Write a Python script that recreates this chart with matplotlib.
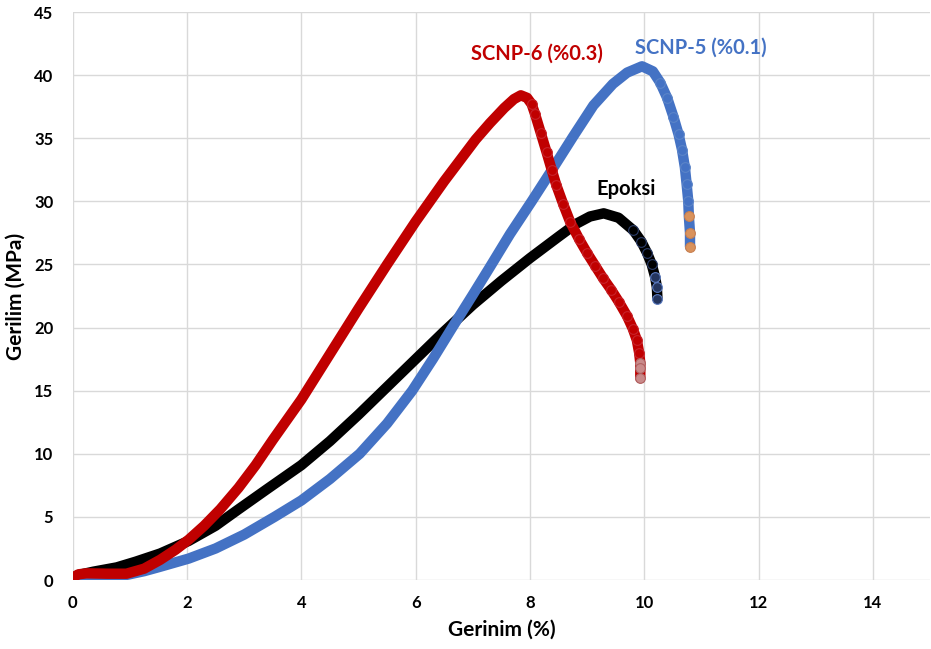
import matplotlib
matplotlib.use("Agg")
import matplotlib.pyplot as plt
import numpy as np

plt.rcParams['font.family'] = ['Lato', 'DejaVu Sans']

# Epoksi (black)
epoksi_x = [0.0, 0.1, 0.36, 0.77, 1.1, 1.53, 2.03, 2.5, 2.9, 3.4, 4.0, 4.5, 5.0, 5.5, 6.0, 6.5,
            7.0, 7.5, 8.0, 8.5, 8.8, 9.05, 9.29, 9.55, 9.81, 9.95, 10.05, 10.13, 10.19, 10.22, 10.23]
epoksi_y = [0.1, 0.4, 0.66, 1.0, 1.45, 2.1, 3.1, 4.3, 5.6, 7.2, 9.1, 11.0, 13.1, 15.3, 17.5, 19.7,
            21.8, 23.7, 25.5, 27.2, 28.2, 28.8, 29.05, 28.7, 27.7, 26.8, 25.9, 25.0, 24.0, 23.2, 22.3]

# SCNP-6 (%0.3) (red)
scnp6_x = [0.0, 0.1, 0.24, 0.6, 0.94, 1.25, 1.53, 1.8, 2.03, 2.3, 2.58, 2.9, 3.2, 3.5, 4.0,
           4.5, 5.0, 5.5, 6.0, 6.5, 6.8, 7.05, 7.3, 7.55, 7.72, 7.84, 7.95, 8.03, 8.09, 8.19,
           8.29, 8.38, 8.46, 8.58, 8.7, 8.86, 9.0, 9.14, 9.28, 9.42, 9.56, 9.7, 9.8, 9.87, 9.91,
           9.93, 9.93, 9.93]
scnp6_y = [0.2, 0.45, 0.53, 0.5, 0.5, 0.9, 1.6, 2.4, 3.2, 4.3, 5.6, 7.3, 9.1, 11.1, 14.3,
           17.9, 21.5, 25.0, 28.4, 31.6, 33.4, 34.9, 36.2, 37.4, 38.1, 38.4, 38.2, 37.7, 36.9, 35.4,
           33.9, 32.5, 31.3, 29.8, 28.4, 27.0, 25.9, 24.9, 23.9, 23.0, 22.0, 20.9, 19.9, 19.0, 18.0,
           17.2, 16.8, 16.0]

# SCNP-5 (%0.1) (blue)
scnp5_x = [0.0, 0.3, 0.6, 0.94, 1.25, 1.53, 2.03, 2.5, 3.0, 3.53, 4.0, 4.5, 5.02, 5.5, 5.94,
           6.3, 6.64, 7.0, 7.3, 7.65, 8.03, 8.4, 8.75, 9.11, 9.45, 9.7, 9.96, 10.15, 10.28, 10.4,
           10.51, 10.6, 10.66, 10.71, 10.74, 10.77, 10.78, 10.8, 10.8]
scnp5_y = [0.1, 0.25, 0.3, 0.4, 0.7, 1.05, 1.7, 2.5, 3.6, 5.0, 6.3, 8.0, 10.0, 12.4, 15.0,
           17.5, 20.0, 22.6, 24.8, 27.4, 30.0, 32.6, 35.1, 37.6, 39.3, 40.2, 40.7, 40.3, 39.4, 38.2,
           36.7, 35.3, 34.1, 32.7, 31.4, 30.0, 28.8, 27.5, 26.4]

x_ticks = [0, 2, 4, 6, 8, 10, 12, 14]
y_ticks = [0, 5, 10, 15, 20, 25, 30, 35, 40, 45]

labels = ["Epoksi", "SCNP-6 (%0.3)", "SCNP-5 (%0.1)"]
label_pos_x = [9.68, 8.13, 10.99]
label_pos_y = [31.0, 41.7, 42.2]
label_colors = ["#000000", "#C00000", "#4472C4"]

fig = plt.figure(figsize=(9.31, 6.49), dpi=100)
ax = fig.add_axes([0.0781, 0.1063, 0.9209, 0.8752])

# drawing order: black, blue, red (red on top)
series = [(epoksi_x, epoksi_y, "#000000", "#2C3E6B", "#24355E", "#5B7BC0"),
          (scnp5_x, scnp5_y, "#4472C4", "#5B84C8", "#D9925C", "#C98050"),
          (scnp6_x, scnp6_y, "#C00000", "#C8232A", "#C98A8A", "#B06060")]
for i, (xs, ys, c, mface, endface, endedge) in enumerate(series):
    xs = np.asarray(xs)
    ys = np.asarray(ys)
    z = 3 + 2 * i
    ax.plot(xs, ys, color=c, linewidth=7.5, solid_capstyle='round',
            solid_joinstyle='round', zorder=z)
    pk = int(np.argmax(ys))
    tx, ty = xs[pk + 2:], ys[pk + 2:]
    ax.plot(tx[:-3], ty[:-3], linestyle='none', marker='o', markersize=7,
            markerfacecolor=c, markeredgecolor=mface, markeredgewidth=0.8, zorder=z + 0.5)
    ax.plot(tx[-3:], ty[-3:], linestyle='none', marker='o', markersize=7,
            markerfacecolor=endface, markeredgecolor=endedge, markeredgewidth=0.8, zorder=z + 0.6)

for lab, lx, ly, c in zip(labels, label_pos_x, label_pos_y, label_colors):
    ax.text(lx, ly, lab, color=c, fontsize=14.5, fontweight='bold', ha='center', va='center', zorder=10)

ax.set_xlim(0, 15)
ax.set_ylim(0, 45)
ax.set_xticks(x_ticks)
ax.set_yticks(y_ticks)
ax.grid(True, color='#d9d9d9', linewidth=1.0, zorder=0)
ax.set_axisbelow(True)
for s in ax.spines.values():
    s.set_visible(False)
ax.tick_params(axis='y', length=0, labelsize=12, pad=14)
ax.tick_params(axis='x', length=0, labelsize=12, pad=11)
for t in ax.get_xticklabels() + ax.get_yticklabels():
    t.set_fontweight('bold')
ax.set_xlabel("Gerinim (%)", fontsize=15, fontweight='bold', labelpad=6)
ax.set_ylabel("Gerilim (MPa)", fontsize=15, fontweight='bold', labelpad=6)

fig.savefig("out.png", dpi=100)
